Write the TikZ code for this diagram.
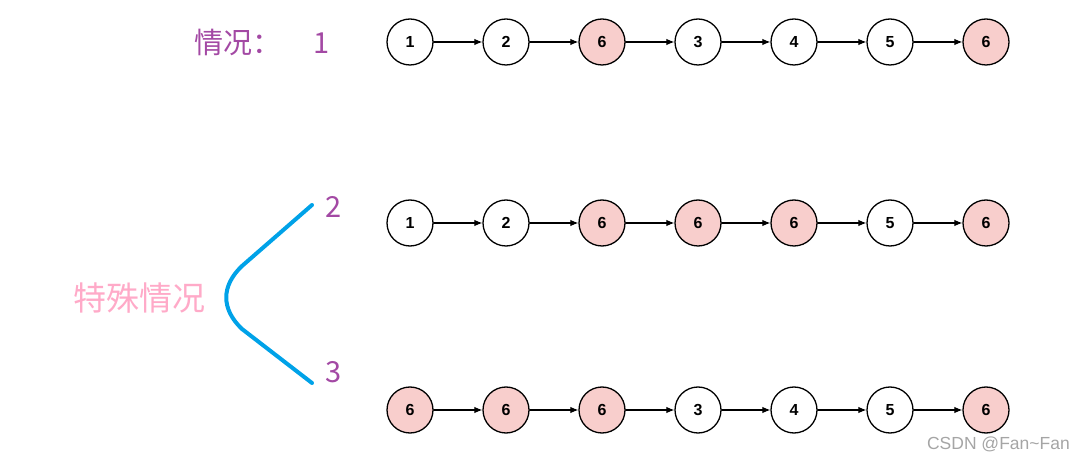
\documentclass[tikz,border=0pt]{standalone}
\usepackage{fontspec}
\setmainfont{Liberation Sans}
\newfontfamily\cjk{Noto Sans CJK SC}
\usepackage{tikz}
\usetikzlibrary{arrows,arrows.meta}
\definecolor{caseviolet}{RGB}{163,73,164}
\definecolor{specpink}{RGB}{255,170,200}
\definecolor{bracecyan}{RGB}{0,162,232}
\definecolor{hitfill}{RGB}{248,206,204}
\definecolor{markgray}{RGB}{165,165,165}

\begin{document}
\begin{tikzpicture}
      [x=1pt,y=-1pt,line cap=round,line join=round,
       plain/.style={circle,draw=black,line width=1.3pt,fill=white,minimum size=46pt,inner sep=0pt,font=\fontsize{16}{16}\selectfont\bfseries},
       hit/.style={plain,fill=hitfill},
       link/.style={-{Latex[length=8pt,width=6.5pt]},line width=1.1pt},
       tag/.style={color=caseviolet,font=\cjk\fontsize{29}{32}\selectfont}]

   \useasboundingbox (0,0) rectangle (1085,462);

%the three lists
 \foreach \i/\v/\s in {1/1/plain,2/2/plain,3/6/hit,4/3/plain,5/4/plain,6/5/plain,7/6/hit}
   \node[\s] (a\i) at ({410+96*(\i-1)},42) {\v};
 \foreach \i/\v/\s in {1/1/plain,2/2/plain,3/6/hit,4/6/hit,5/6/hit,6/5/plain,7/6/hit}
   \node[\s] (b\i) at ({410+96*(\i-1)},223) {\v};
 \foreach \i/\v/\s in {1/6/hit,2/6/hit,3/6/hit,4/3/plain,5/4/plain,6/5/plain,7/6/hit}
   \node[\s] (c\i) at ({410+96*(\i-1)},410) {\v};

%arrows between neighbours
 \foreach \i [evaluate=\i as \j using int(\i+1)] in {1,...,6}
 {
   \draw[link] (a\i) -- (a\j);
   \draw[link] (b\i) -- (b\j);
   \draw[link] (c\i) -- (c\j);
 }

%labels on the left
 \node[tag,anchor=west,inner sep=0pt] (caseone) at (194,42) {情况：\hspace{32pt}1};
 \node[tag,inner sep=0pt] (casetwo) at (334,207) {2};
 \node[tag,inner sep=0pt] (casethree) at (334,372) {3};
 \node[color=specpink,font=\cjk\fontsize{33}{36}\selectfont,inner sep=0pt] (special) at (139,298) {特殊情况};

%the bracket
 \draw[color=bracecyan,line width=4pt] (312,205) -- (242,266)
   .. controls (221,286) and (221,309) .. (242,329) -- (312,383);

 \node[color=markgray,font=\fontsize{17.5}{17.5}\selectfont,anchor=east,inner sep=0pt] (mark) at (1070,444) {CSDN @Fan\textasciitilde Fan};

\end{tikzpicture}
\end{document}
